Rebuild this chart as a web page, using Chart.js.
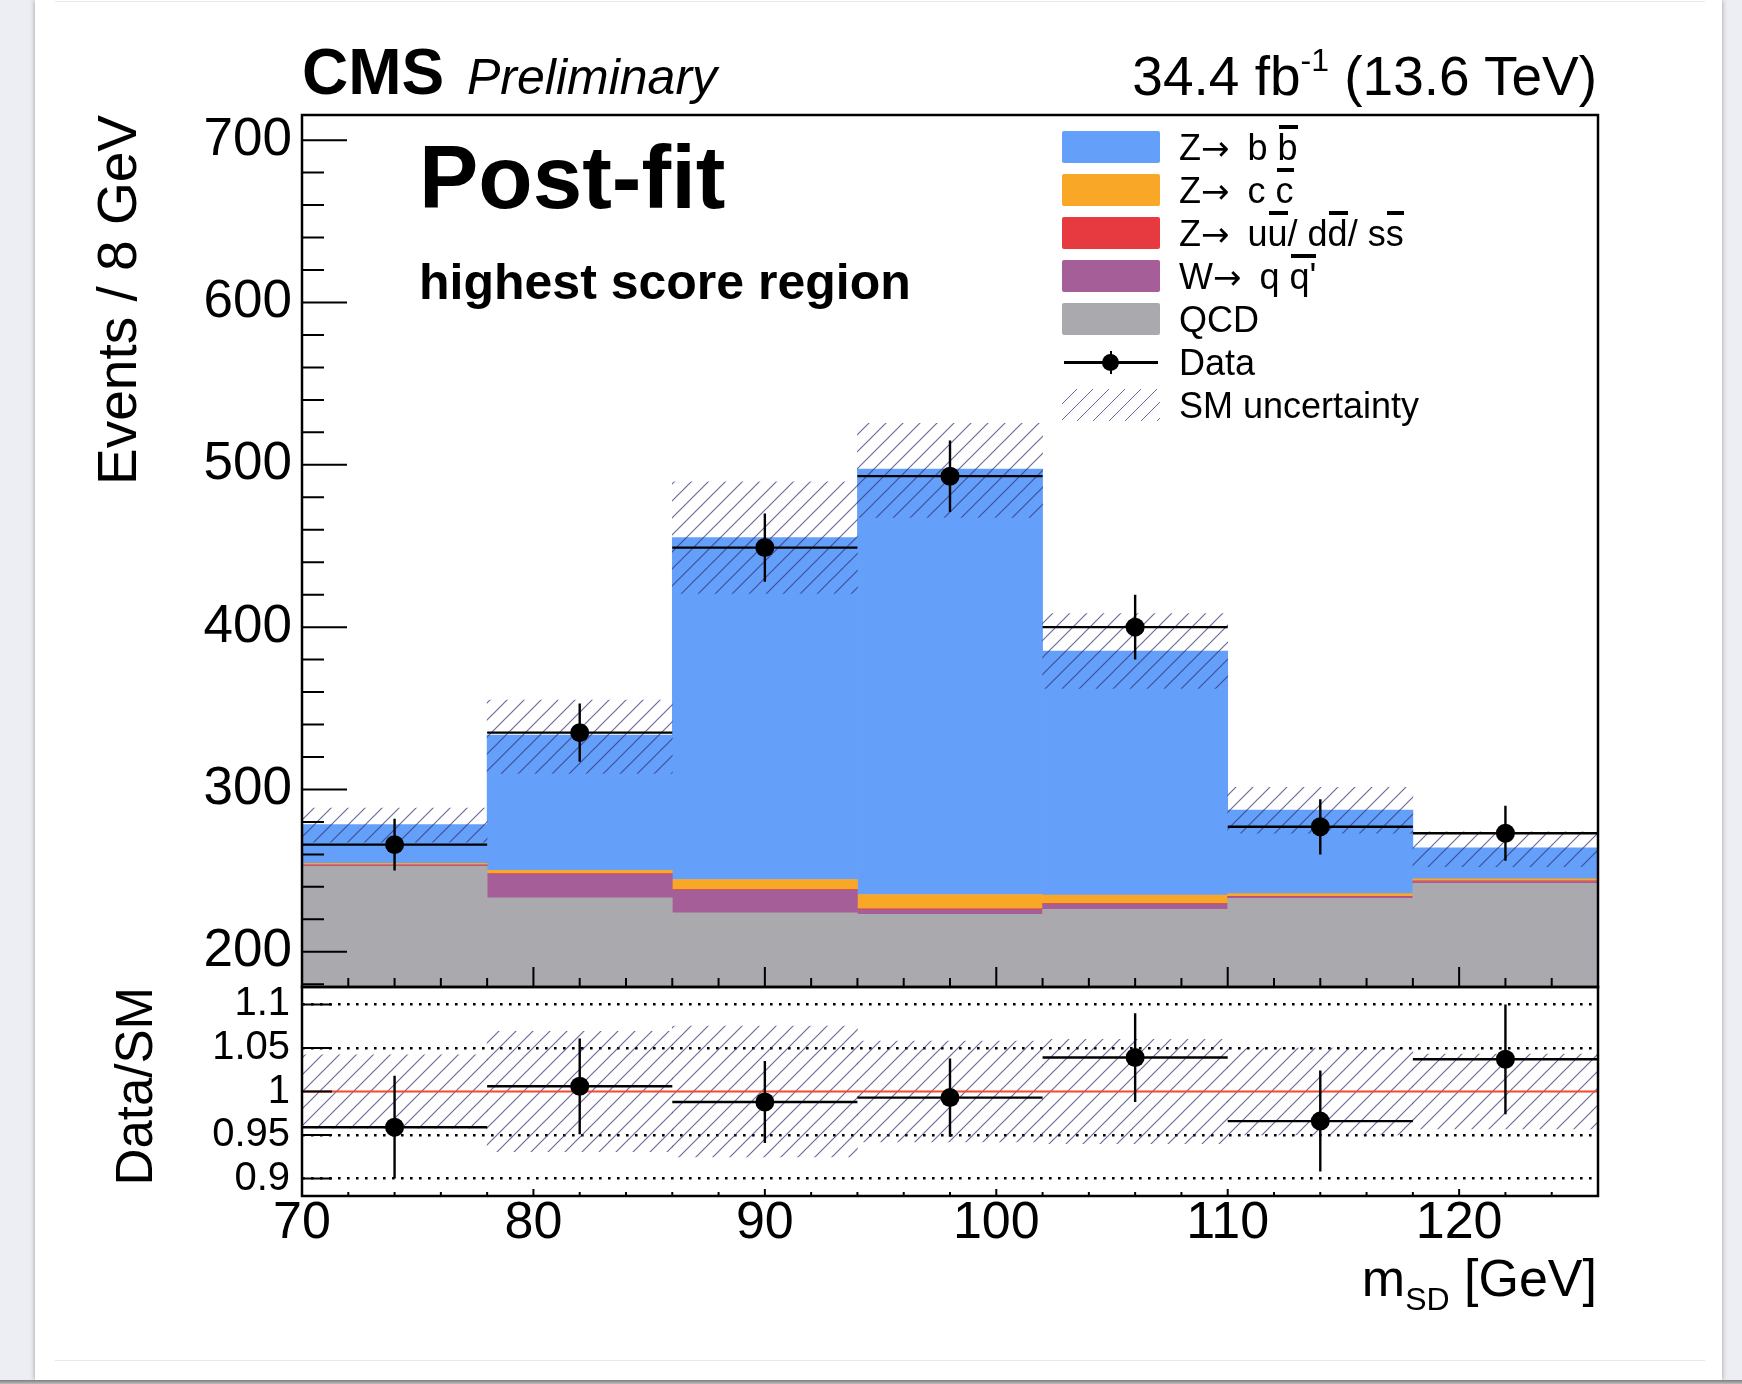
<!DOCTYPE html>
<html>
<head>
<meta charset="utf-8">
<title>Post-fit m_SD, highest score region</title>
<script src="https://cdn.jsdelivr.net/npm/chart.js@4.4.1/dist/chart.umd.min.js"></script>
<style>
  body { margin: 0; width: 1742px; height: 1384px; position: relative; overflow: hidden;
         background: #eceef3; font-family: "Liberation Sans", Arial, Helvetica, sans-serif; color: #000; }
  #sheet { position: absolute; left: 35px; top: 0; width: 1687px; height: 1380px; background: #fff;
           box-shadow: 0 0 5px rgba(0,0,0,0.35); }
  #floor { position: absolute; left: 0; top: 1380px; width: 1742px; height: 4px; background: linear-gradient(#7d7d7d, #bdbdbd); }
  .rule { position: absolute; left: 55px; width: 1650px; height: 1px; background: #e9e9ec; }
  canvas { position: absolute; left: 0; top: 0; }
  .t { position: absolute; line-height: 1; white-space: nowrap; }
  .ov { position: relative; display: inline-block; }
  .ov::before { content: ''; position: absolute; left: 1px; right: 0; top: -1px; height: 4px; background: #000; }
  .arr { font-family: "DejaVu Sans", sans-serif; font-size: 34px; }
  #legend { position: absolute; left: 1062px; top: 126px; }
  #legend .row { position: relative; height: 43px; line-height: 43px; font-size: 36px; white-space: nowrap; }
  #legend .box { position: absolute; left: 0; top: 5px; width: 98px; height: 32px; border-radius: 2px; }
  #legend .lab { position: absolute; left: 117px; top: 0; }
  .hatch { background: repeating-linear-gradient(135deg, rgba(255,255,255,0) 0 10px, rgba(45,45,115,0.7) 10px 11.3px); }
</style>
</head>
<body>
<div id="sheet"></div>
<div id="floor"></div>
<div class="rule" style="top:1px"></div>
<div class="rule" style="top:1360px"></div>

<canvas id="main" width="1742" height="1384" style="width:1742px;height:1384px"></canvas>
<canvas id="ratio" width="1742" height="1384" style="width:1742px;height:1384px"></canvas>

<div class="t" style="left:302px;top:40px;font-size:64px;font-weight:bold">CMS</div>
<div class="t" style="left:467px;top:52px;font-size:50px;font-style:italic">Preliminary</div>
<div class="t" style="right:145px;top:49px;font-size:55px">34.4 fb<span style="font-size:32px;position:relative;top:-24px">-1</span> (13.6 TeV)</div>
<div class="t" style="left:419px;top:133px;font-size:89px;font-weight:bold">Post-fit</div>
<div class="t" style="left:419px;top:257px;font-size:50px;font-weight:bold">highest score region</div>
<div class="t" style="right:145px;top:1252px;font-size:52px">m<span style="font-size:32px;position:relative;top:14px">SD</span> [GeV]</div>

<div id="legend">
  <div class="row"><span class="box" style="background:#64a0f9"></span><span class="lab">Z<span class="arr">&#8594;</span>&ensp;b <span class="ov">b</span></span></div>
  <div class="row"><span class="box" style="background:#f8a727"></span><span class="lab">Z<span class="arr">&#8594;</span>&ensp;c <span class="ov">c</span></span></div>
  <div class="row"><span class="box" style="background:#e63940"></span><span class="lab">Z<span class="arr">&#8594;</span>&ensp;u<span class="ov">u</span>/ d<span class="ov">d</span>/ s<span class="ov">s</span></span></div>
  <div class="row"><span class="box" style="background:#a65e98"></span><span class="lab">W<span class="arr">&#8594;</span>&ensp;q <span class="ov">q'</span></span></div>
  <div class="row"><span class="box" style="background:#aaaaae"></span><span class="lab">QCD</span></div>
  <div class="row">
    <span style="position:absolute;left:2px;top:20px;width:94px;height:3px;background:#000"></span>
    <span style="position:absolute;left:48px;top:10px;width:2px;height:23px;background:#000"></span>
    <span style="position:absolute;left:40px;top:13px;width:17px;height:17px;border-radius:50%;background:#000"></span>
    <span class="lab">Data</span>
  </div>
  <div class="row"><span class="box hatch" style="border-radius:0"></span><span class="lab">SM uncertainty</span></div>
</div>

<script>
// histogram bins in m_SD (GeV)
var binLow = [70, 78, 86, 94, 102, 110, 118];
var binHigh = [78, 86, 94, 102, 110, 118, 126];
var binCenter = [74, 82, 90, 98, 106, 114, 122];

// post-fit stack, events / bin
var qcd = [252.6, 233.3, 224.0, 223.0, 226.1, 232.9, 242.1];
var wqq = [0.6, 14.6, 14.0, 3.0, 3.3, 1.0, 1.2];
var zqq = [0.3, 0.3, 0.3, 0.5, 0.3, 0.3, 0.4];
var zcc = [1.0, 2.0, 6.2, 8.8, 5.3, 1.6, 1.3];
var zbb = [23.8, 83.3, 210.7, 262.0, 150.3, 51.5, 19.1];

// SM uncertainty band (lower / upper edge)
var smLow = [267.5, 309.9, 420.8, 467.6, 362.2, 273.0, 252.4];
var smHigh = [288.5, 355.0, 489.5, 525.5, 408.4, 301.3, 273.9];

// data
var dataN = [266, 335, 449, 493, 400, 277, 273];
var dataErr = [16, 18, 21, 22, 20, 17, 17];

// ratio panel
var ratioVal = [0.959, 1.006, 0.988, 0.993, 1.039, 0.966, 1.037];
var ratioErr = [0.059, 0.055, 0.047, 0.045, 0.051, 0.058, 0.063];
var ratioBand = [0.042, 0.069, 0.075, 0.058, 0.06, 0.05, 0.043];

// tick labels
var xTicks = [70, 80, 90, 100, 110, 120];
var yTicks = [200, 300, 400, 500, 600, 700];
var ratioTicks = [0.9, 0.95, 1, 1.05, 1.1];

var X_MIN = 70, X_MAX = 126;

Chart.defaults.font.family = '"Liberation Sans", Arial, Helvetica, sans-serif';
Chart.defaults.color = '#000';

function points(vals) {
  return binCenter.map(function (c, i) { return {x: c, y: vals[i]}; });
}

// horizontal bin-width bar + vertical error bar, broken by null points
function errorSegments(vals, errs) {
  var out = [];
  binCenter.forEach(function (c, i) {
    out.push({x: binLow[i], y: vals[i]}, {x: binHigh[i], y: vals[i]}, {x: c, y: null});
    out.push({x: c, y: vals[i] - errs[i]}, {x: c, y: vals[i] + errs[i]}, {x: c, y: null});
  });
  return out;
}

function hatchPattern() {
  var s = 17;
  var c = document.createElement('canvas');
  c.width = s; c.height = s;
  var g = c.getContext('2d');
  g.strokeStyle = 'rgba(45,45,115,0.7)';
  g.lineWidth = 1.2;
  g.beginPath();
  g.moveTo(-2, s + 2); g.lineTo(s + 2, -2);
  g.moveTo(-2, 2); g.lineTo(2, -2);
  g.moveTo(s - 2, s + 2); g.lineTo(s + 2, s - 2);
  g.stroke();
  return g.createPattern(c, 'repeat');
}
var hatch = hatchPattern();

function isMultiple(v, step) {
  var q = v / step;
  return Math.abs(q - Math.round(q)) < 1e-6;
}

// ROOT style frame with inward ticks
var rootFrame = {
  id: 'rootFrame',
  afterDatasetsDraw: function (chart, args, opt) {
    var ctx = chart.ctx, a = chart.chartArea;
    var xs = chart.scales.x, ys = chart.scales.y;
    var i, v, p, len;
    ctx.save();
    ctx.strokeStyle = '#000';
    ctx.lineWidth = 2;
    ctx.beginPath();
    for (i = Math.ceil(xs.min / opt.xMinor - 1e-9); i * opt.xMinor <= xs.max + 1e-9; i++) {
      v = i * opt.xMinor;
      p = xs.getPixelForValue(v);
      len = isMultiple(v, opt.xMajor) ? opt.xMajorLen : opt.xMinorLen;
      ctx.moveTo(p, a.bottom); ctx.lineTo(p, a.bottom - len);
    }
    for (i = Math.ceil(ys.min / opt.yMinor - 1e-9); i * opt.yMinor <= ys.max + 1e-9; i++) {
      v = i * opt.yMinor;
      p = ys.getPixelForValue(v);
      len = isMultiple(v, opt.yMajor) ? opt.yMajorLen : opt.yMinorLen;
      ctx.moveTo(a.left, p); ctx.lineTo(a.left + len, p);
    }
    ctx.stroke();
    ctx.lineWidth = 2.5;
    ctx.strokeRect(a.left, a.top, a.right - a.left, a.bottom - a.top);
    ctx.restore();
  }
};

function setTicks(list) {
  return function (scale) { scale.ticks = list.map(function (v) { return {value: v}; }); };
}

var barDefaults = {barPercentage: 1, categoryPercentage: 1, grouped: false, borderWidth: 0};

// main panel
new Chart(document.getElementById('main'), {
  type: 'bar',
  plugins: [rootFrame],
  data: {
    datasets: [
      {type: 'line', label: 'Data', data: points(dataN), yAxisID: 'y2', showLine: false,
       pointRadius: 9.5, pointBackgroundColor: '#000', pointBorderWidth: 0, order: 0},
      {type: 'line', label: 'Data errors', data: errorSegments(dataN, dataErr), yAxisID: 'y2',
       borderColor: '#000', borderWidth: 2.4, pointRadius: 0, spanGaps: false, order: 1},
      {label: 'SM uncertainty', yAxisID: 'y2', backgroundColor: hatch, order: 2,
       data: binCenter.map(function (c, i) { return {x: c, y: [smLow[i], smHigh[i]]}; })},
      {label: 'QCD', data: points(qcd), backgroundColor: '#aaaaae', order: 3},
      {label: 'W->qq', data: points(wqq), backgroundColor: '#a65e98', order: 4},
      {label: 'Z->uu/dd/ss', data: points(zqq), backgroundColor: '#e63940', order: 5},
      {label: 'Z->cc', data: points(zcc), backgroundColor: '#f8a727', order: 6},
      {label: 'Z->bb', data: points(zbb), backgroundColor: '#64a0f9', order: 7}
    ]
  },
  options: {
    responsive: false,
    devicePixelRatio: 1,
    animation: false,
    events: [],
    layout: {padding: {left: 0, right: 144, top: 115, bottom: 397}},
    datasets: {bar: barDefaults},
    plugins: {
      legend: {display: false},
      tooltip: {enabled: false},
      rootFrame: {xMajor: 10, xMinor: 2, xMajorLen: 20, xMinorLen: 9,
                  yMajor: 100, yMinor: 20, yMajorLen: 45, yMinorLen: 22}
    },
    scales: {
      x: {
        type: 'linear', min: X_MIN, max: X_MAX, offset: false,
        afterBuildTicks: setTicks(xTicks),
        ticks: {display: false},
        grid: {display: false, drawTicks: false, offset: false},
        border: {display: false},
        afterFit: function (s) { s.height = 0; }
      },
      y: {
        type: 'linear', min: 178.3, max: 715.5, stacked: true,
        afterBuildTicks: setTicks(yTicks),
        ticks: {font: {size: 53}, padding: 10},
        grid: {display: false, drawTicks: false},
        border: {display: false},
        title: {display: true, text: 'Events / 8 GeV', align: 'end', font: {size: 55},
                padding: {top: 88, bottom: 0}},
        afterFit: function (s) { s.width = 302; }
      },
      y2: {type: 'linear', min: 178.3, max: 715.5, display: false}
    }
  }
});

// ratio panel
new Chart(document.getElementById('ratio'), {
  type: 'bar',
  plugins: [rootFrame],
  data: {
    datasets: [
      {type: 'line', label: 'Data/SM', data: points(ratioVal), showLine: false,
       pointRadius: 9.5, pointBackgroundColor: '#000', pointBorderWidth: 0, order: 0},
      {type: 'line', label: 'Data/SM errors', data: errorSegments(ratioVal, ratioErr),
       borderColor: '#000', borderWidth: 2.4, pointRadius: 0, spanGaps: false, order: 1},
      {type: 'line', label: 'unity', data: [{x: X_MIN, y: 1}, {x: X_MAX, y: 1}],
       borderColor: '#f5492b', borderWidth: 2, pointRadius: 0, order: 2},
      {label: 'SM uncertainty', backgroundColor: hatch, order: 3,
       data: binCenter.map(function (c, i) { return {x: c, y: [1 - ratioBand[i], 1 + ratioBand[i]]}; })}
    ]
  },
  options: {
    responsive: false,
    devicePixelRatio: 1,
    animation: false,
    events: [],
    layout: {padding: {left: 0, right: 144, top: 987, bottom: 118}},
    datasets: {bar: barDefaults},
    plugins: {
      legend: {display: false},
      tooltip: {enabled: false},
      rootFrame: {xMajor: 10, xMinor: 2, xMajorLen: 7, xMinorLen: 4,
                  yMajor: 0.05, yMinor: 0.05, yMajorLen: 30, yMinorLen: 30}
    },
    scales: {
      x: {
        type: 'linear', min: X_MIN, max: X_MAX, offset: false,
        afterBuildTicks: setTicks(xTicks),
        ticks: {font: {size: 52, lineHeight: 1}, padding: 1.5, maxRotation: 0, autoSkip: false},
        grid: {display: false, drawTicks: false, offset: false},
        border: {display: false},
        afterFit: function (s) { s.height = 70; }
      },
      y: {
        type: 'linear', min: 0.88, max: 1.12,
        afterBuildTicks: setTicks(ratioTicks),
        ticks: {font: {size: 40}, padding: 12, callback: function (v) { return String(v); }},
        grid: {
          drawTicks: false, lineWidth: 2.6,
          color: function (c) { return c.tick && c.tick.value === 1 ? 'rgba(0,0,0,0)' : '#000'; }
        },
        border: {display: false, dash: [2.6, 6.4]},
        title: {display: true, text: 'Data/SM', align: 'end', font: {size: 51},
                padding: {top: 107, bottom: 0}},
        afterFit: function (s) { s.width = 302; }
      }
    }
  }
});
</script>
</body>
</html>
